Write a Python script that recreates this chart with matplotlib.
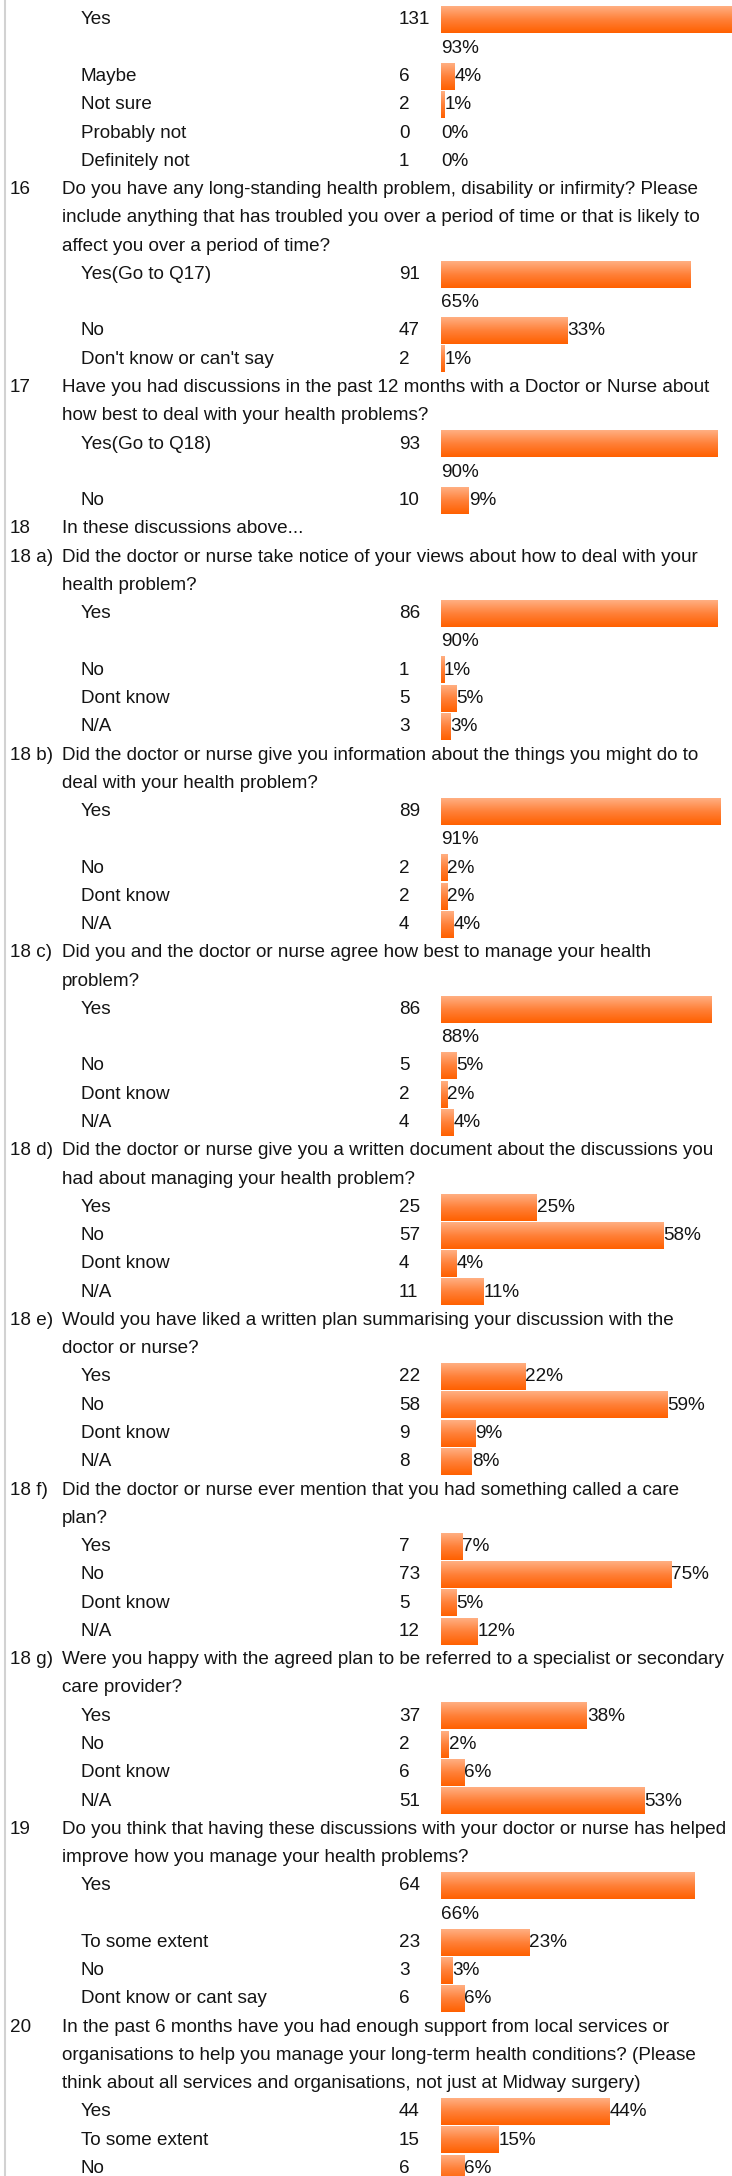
import numpy as np
import matplotlib.pyplot as plt
from matplotlib.colors import LinearSegmentedColormap

plt.rcParams['font.family'] = ['Liberation Sans', 'DejaVu Sans']

# survey data, one entry per question block
q_numbers = ["", "16", "17", "18", "18 a)", "18 b)", "18 c)", "18 d)", "18 e)",
             "18 f)", "18 g)", "19", "20"]
q_texts = [
    "",
    "Do you have any long-standing health problem, disability or infirmity? Please\n"
    "include anything that has troubled you over a period of time or that is likely to\n"
    "affect you over a period of time?",
    "Have you had discussions in the past 12 months with a Doctor or Nurse about\n"
    "how best to deal with your health problems?",
    "In these discussions above...",
    "Did the doctor or nurse take notice of your views about how to deal with your\n"
    "health problem?",
    "Did the doctor or nurse give you information about the things you might do to\n"
    "deal with your health problem?",
    "Did you and the doctor or nurse agree how best to manage your health\n"
    "problem?",
    "Did the doctor or nurse give you a written document about the discussions you\n"
    "had about managing your health problem?",
    "Would you have liked a written plan summarising your discussion with the\n"
    "doctor or nurse?",
    "Did the doctor or nurse ever mention that you had something called a care\n"
    "plan?",
    "Were you happy with the agreed plan to be referred to a specialist or secondary\n"
    "care provider?",
    "Do you think that having these discussions with your doctor or nurse has helped\n"
    "improve how you manage your health problems?",
    "In the past 6 months have you had enough support from local services or\n"
    "organisations to help you manage your long-term health conditions? (Please\n"
    "think about all services and organisations, not just at Midway surgery)",
]
q_options = [
    ["Yes", "Maybe", "Not sure", "Probably not", "Definitely not"],
    ["Yes(Go to Q17)", "No", "Don't know or can't say"],
    ["Yes(Go to Q18)", "No"],
    [],
    ["Yes", "No", "Dont know", "N/A"],
    ["Yes", "No", "Dont know", "N/A"],
    ["Yes", "No", "Dont know", "N/A"],
    ["Yes", "No", "Dont know", "N/A"],
    ["Yes", "No", "Dont know", "N/A"],
    ["Yes", "No", "Dont know", "N/A"],
    ["Yes", "No", "Dont know", "N/A"],
    ["Yes", "To some extent", "No", "Dont know or cant say"],
    ["Yes", "To some extent", "No"],
]
q_counts = [
    [131, 6, 2, 0, 1],
    [91, 47, 2],
    [93, 10],
    [],
    [86, 1, 5, 3],
    [89, 2, 2, 4],
    [86, 5, 2, 4],
    [25, 57, 4, 11],
    [22, 58, 9, 8],
    [7, 73, 5, 12],
    [37, 2, 6, 51],
    [64, 23, 3, 6],
    [44, 15, 6],
]
q_pcts = [
    [93, 4, 1, 0, 0],
    [65, 33, 1],
    [90, 9],
    [],
    [90, 1, 5, 3],
    [91, 2, 2, 4],
    [88, 5, 2, 4],
    [25, 58, 4, 11],
    [22, 59, 9, 8],
    [7, 75, 5, 12],
    [38, 2, 6, 53],
    [66, 23, 3, 6],
    [44, 15, 6],
]
# axis maximum (%) used by each small chart
q_axis_max = [90, 80, 100, 100, 100, 100, 100, 80, 80, 100, 80, 80, 80]

W, H = 732, 2176
fig = plt.figure(figsize=(W / 100, H / 100), dpi=100)
ax = fig.add_axes([0, 0, 1, 1])
ax.set_xlim(0, W)
ax.set_ylim(H, 0)
ax.axis("off")

fs = 13.6
txt_color = "#141414"
slot = 28.27
bar_x, bar_w, bar_h = 441, 307, 26.5
cmap = LinearSegmentedColormap.from_list("bar", ["#FFAF82", "#FF8038", "#FF6000"])
grad = np.linspace(0, 1, 64).reshape(-1, 1)

# thin grey rule on the left
ax.plot([5, 5], [0, H], color="#d2d2d2", lw=1.5)

y = 20.0
for num, text, opts, counts, pcts, amax in zip(q_numbers, q_texts, q_options,
                                                q_counts, q_pcts, q_axis_max):
    if text:
        ax.text(10, y, num, fontsize=fs, color=txt_color, va="center")
        for line in text.split("\n"):
            ax.text(62, y, line, fontsize=fs, color=txt_color, va="center")
            y += slot
    if not opts:
        continue

    rows = []
    for opt, cnt, pct in zip(opts, counts, pcts):
        below = pct / amax * bar_w > 690 - bar_x
        rows.append((y, opt, cnt, pct, below))
        y += slot * (2 if below else 1)

    # small bar chart for this block, in pixel rows
    top = rows[0][0] - slot / 2
    bot = rows[-1][0] + slot / 2 + (slot if rows[-1][4] else 0)
    bax = fig.add_axes([bar_x / W, 1 - bot / H, bar_w / W, (bot - top) / H])
    bax.set_xlim(0, amax)
    bax.set_ylim(bot, top)
    bax.axis("off")
    bars = bax.barh([r[0] for r in rows], [r[3] for r in rows], height=bar_h,
                    facecolor="none", edgecolor="none")
    for b in bars:
        if b.get_width() <= 0:
            continue
        x0, y0 = b.get_x(), b.get_y()
        bax.imshow(grad, cmap=cmap, aspect="auto", interpolation="bilinear",
                   extent=[x0, x0 + b.get_width(), y0 + bar_h, y0],
                   clip_path=b, zorder=2)
    bax.set_xlim(0, amax)
    bax.set_ylim(bot, top)

    for ry, opt, cnt, pct, below in rows:
        ax.text(81, ry, opt, fontsize=fs, color=txt_color, va="center")
        ax.text(399, ry, str(cnt), fontsize=fs, color=txt_color, va="center")
        if below:
            bax.text(0, ry + slot, f"{pct}%", fontsize=fs, color=txt_color,
                     va="center", ha="left", clip_on=False)
        else:
            bax.text(pct, ry, f"{pct}%", fontsize=fs, color=txt_color,
                     va="center", ha="left", clip_on=False)

fig.savefig("out.png", dpi=100)
